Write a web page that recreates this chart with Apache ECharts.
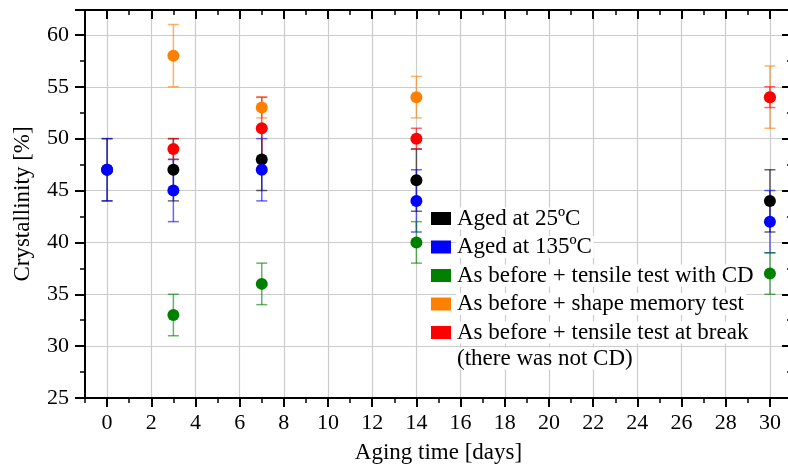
<!DOCTYPE html>
<html>
<head>
<meta charset="utf-8">
<script src="https://cdn.jsdelivr.net/npm/echarts@6/dist/echarts.min.js"></script>
<style>html,body{margin:0;padding:0;background:#fff}#c{width:788px;height:467px}</style>
</head>
<body>
<div id="c"></div>
<script>
// ---- data ----
const seriesNames = ['Aged at 25ºC', 'Aged at 135ºC', 'As before + tensile test with CD', 'As before + shape memory test', 'As before + tensile test at break'];
const noteLine = '(there was not CD)';
const colors = ['#000000', '#0000ff', '#008000', '#ff8000', '#ff0000'];

const daysBlack = [0, 3, 7, 14, 30];
const valBlack  = [47, 47, 48, 46, 44];
const errBlack  = [3, 3, 3, 3, 3];

const daysBlue = [0, 3, 7, 14, 30];
const valBlue  = [47, 45, 47, 44, 42];
const errBlue  = [3, 3, 3, 3, 3];

const daysGreen = [3, 7, 14, 30];
const valGreen  = [33, 36, 40, 37];
const errGreen  = [2, 2, 2, 2];

const daysOrange = [3, 7, 14, 30];
const valOrange  = [58, 53, 54, 54];
const errOrange  = [3, 1, 2, 3];

const daysRed = [3, 7, 14, 30];
const valRed  = [49, 51, 50, 54];
const errRed  = [1, 3, 1, 1];

const xMajorTicks = [0, 2, 4, 6, 8, 10, 12, 14, 16, 18, 20, 22, 24, 26, 28, 30];
const xMinorTicks = [-1, 1, 3, 5, 7, 9, 11, 13, 15, 17, 19, 21, 23, 25, 27, 29];

// ---- build ----
const groups = [
  [daysBlack, valBlack, errBlack],
  [daysBlue, valBlue, errBlue],
  [daysGreen, valGreen, errGreen],
  [daysOrange, valOrange, errOrange],
  [daysRed, valRed, errRed]
];
const FONT = "'Liberation Serif', 'Times New Roman', serif";

function errRender(color) {
  return function (params, api) {
    const x = api.value(0), y = api.value(1), e = api.value(2);
    const t = api.coord([x, y + e]);
    const b = api.coord([x, y - e]);
    const hw = 5.5;
    const st = { stroke: color, lineWidth: 1.5, opacity: 0.6 };
    return {
      type: 'group',
      children: [
        { type: 'line', shape: { x1: t[0], y1: t[1], x2: b[0], y2: b[1] }, style: st },
        { type: 'line', shape: { x1: t[0] - hw, y1: t[1], x2: t[0] + hw, y2: t[1] }, style: st },
        { type: 'line', shape: { x1: b[0] - hw, y1: b[1], x2: b[0] + hw, y2: b[1] }, style: st }
      ]
    };
  };
}

const series = [];
groups.forEach(function (g, i) {
  const d = g[0].map(function (x, k) { return [x, g[1][k], g[2][k]]; });
  series.push({
    name: 'err' + i, type: 'custom', xAxisIndex: 0, yAxisIndex: 0,
    renderItem: errRender(colors[i]), data: d, encode: { x: 0, y: 1 }, silent: true, z: 2
  });
  series.push({
    name: seriesNames[i], type: 'scatter', xAxisIndex: 0, yAxisIndex: 0,
    data: g[0].map(function (x, k) { return [x, g[1][k]]; }),
    symbol: 'circle', symbolSize: 12, itemStyle: { color: colors[i], opacity: 1 }, z: 2
  });
});

const XMIN = -1, XMAX = 31, YMIN = 25, YMAX = 62.4;
const axisLine = { show: true, onZero: false, lineStyle: { color: '#000', width: 2 } };
const gridLine = { show: true, lineStyle: { color: '#cccccc', width: 1.2 } };

const option = {
  animation: false,
  backgroundColor: '#ffffff',
  color: colors,
  grid: [{ left: 85, width: 707, top: 10, bottom: 69, containLabel: false, outerBoundsMode: 'none' }],
  xAxis: [
    {
      type: 'value', gridIndex: 0, position: 'bottom', min: XMIN, max: XMAX,
      axisLine: axisLine,
      axisTick: { show: true, customValues: xMajorTicks, length: 9, inside: false, lineStyle: { color: '#000', width: 2 } },
      axisLabel: { show: true, customValues: xMajorTicks, margin: 14, color: '#000', fontSize: 22, fontFamily: FONT },
      splitLine: gridLine,
      name: 'Aging time [days]', nameLocation: 'middle', nameGap: 43,
      nameTextStyle: { color: '#000', fontSize: 23, fontFamily: FONT }
    },
    {
      type: 'value', gridIndex: 0, position: 'bottom', min: XMIN, max: XMAX,
      axisLine: { show: false },
      axisTick: { show: true, customValues: xMinorTicks, length: 5, inside: false, lineStyle: { color: '#000', width: 1.5 } },
      axisLabel: { show: false }, splitLine: { show: false }
    },
    {
      type: 'value', gridIndex: 0, position: 'top', min: XMIN, max: XMAX,
      axisLine: axisLine,
      axisTick: { show: true, customValues: xMajorTicks, length: 9, inside: true, lineStyle: { color: '#000', width: 2 } },
      axisLabel: { show: false }, splitLine: { show: false }
    },
    {
      type: 'value', gridIndex: 0, position: 'top', min: XMIN, max: XMAX,
      axisLine: { show: false },
      axisTick: { show: true, customValues: xMinorTicks, length: 5, inside: true, lineStyle: { color: '#000', width: 1.5 } },
      axisLabel: { show: false }, splitLine: { show: false }
    }
  ],
  yAxis: [
    {
      type: 'value', gridIndex: 0, position: 'left', min: YMIN, max: YMAX, interval: 5,
      axisLine: axisLine,
      axisTick: { show: true, length: 10, inside: false, lineStyle: { color: '#000', width: 2 } },
      minorTick: { show: true, splitNumber: 2, length: 5, lineStyle: { color: '#000', width: 1.5 } },
      axisLabel: { show: true, margin: 16, color: '#000', fontSize: 22, fontFamily: FONT, showMaxLabel: false },
      splitLine: gridLine,
      name: 'Crystallinity [%]', nameLocation: 'middle', nameGap: 51,
      nameTextStyle: { color: '#000', fontSize: 23, fontFamily: FONT }
    },
    {
      type: 'value', gridIndex: 0, position: 'right', min: YMIN, max: YMAX, interval: 5,
      axisLine: axisLine,
      axisTick: { show: true, length: 10, inside: true, lineStyle: { color: '#000', width: 2 } },
      minorTick: { show: true, splitNumber: 2, length: 5, lineStyle: { color: '#000', width: 1.5 } },
      axisLabel: { show: false }, splitLine: { show: false }
    }
  ],
  legend: {
    show: true, orient: 'vertical', left: 431, top: 207, padding: 0,
    itemWidth: 20, itemHeight: 13, itemGap: 5.5, icon: 'rect',
    data: seriesNames,
    textStyle: { color: '#000', fontSize: 23, fontFamily: FONT, lineHeight: 22, backgroundColor: '#ffffff', padding: [0, 2, 0, 1] },
    selectedMode: false
  },
  graphic: [
    {
      type: 'text', left: 456, top: 347, z: 100,
      style: { text: noteLine, fill: '#000', fontSize: 23, fontFamily: FONT, lineHeight: 22, backgroundColor: '#ffffff', padding: [0, 2, 0, 1] }
    }
  ],
  series: series
};

const chart = echarts.init(document.getElementById('c'), null, { renderer: 'canvas' });
chart.setOption(option);
</script>
</body>
</html>
